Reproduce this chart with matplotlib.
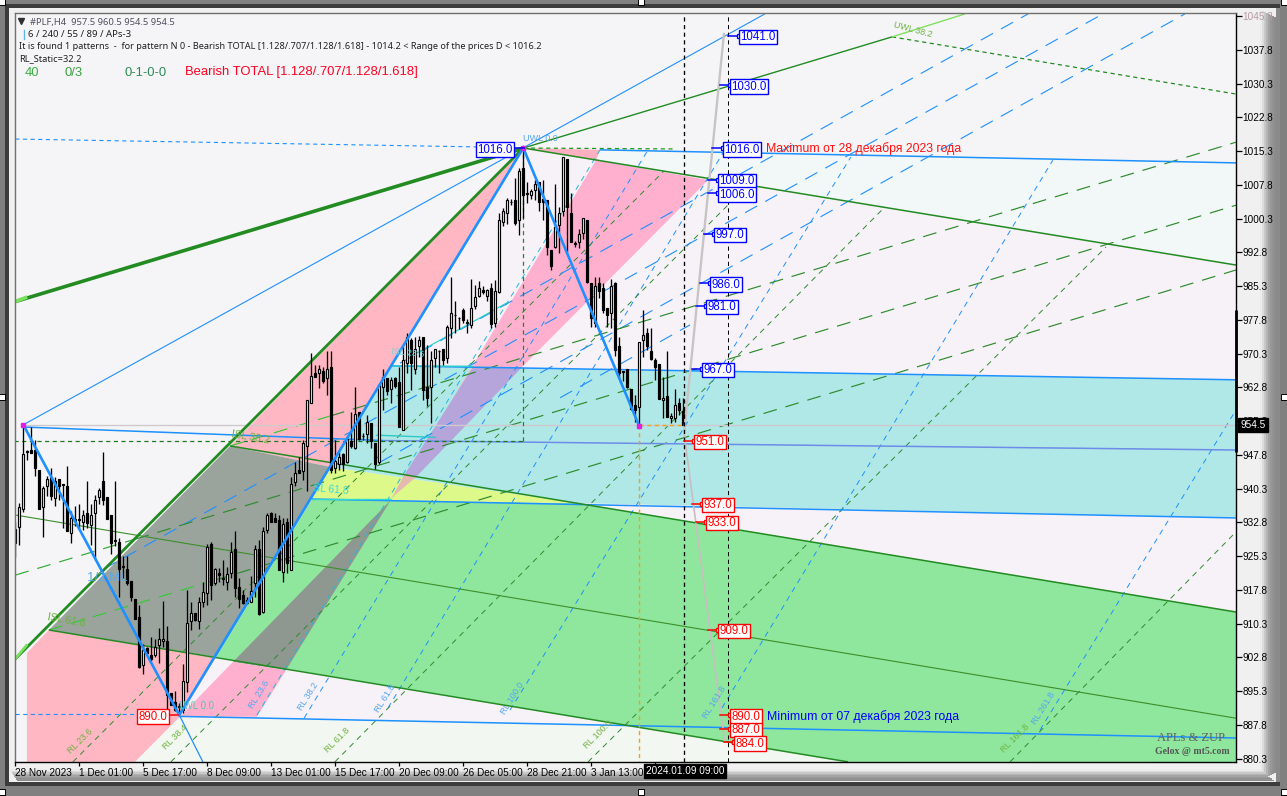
import matplotlib
matplotlib.use("Agg")
import matplotlib.pyplot as plt
from matplotlib.patches import Rectangle, Polygon

plt.rcParams['lines.scale_dashes'] = False
plt.rcParams['font.family'] = ['Liberation Sans', 'DejaVu Sans']

opens = [928.3,931.7,935.9,948.4,948.9,948.9,944.5,936.3,940.8,942.8,938.3,942.4,941.3,940.9,930.4,933.6,933.6,932.9,934.8,932.3,
934.8,938.4,942.0,938.4,934.4,928.7,928.4,922.9,922.4,919.7,915.7,911.7,901.1,905.0,903.3,903.3,905.6,906.4,906.4,894.8,
892.8,891.8,891.1,897.4,910.8,912.6,910.8,915.2,917.2,928.0,919.3,921.6,920.3,919.6,921.6,926.9,918.5,916.6,915.6,915.2,
919.4,926.9,912.8,931.1,934.8,933.7,933.3,921.8,932.9,922.2,941.9,944.5,944.3,949.8,959.3,966.1,965.9,966.5,964.8,967.3,
944.8,945.8,948.0,946.3,950.8,949.3,957.4,951.9,952.5,954.8,950.4,946.3,962.8,964.8,962.4,964.8,964.1,953.3,968.3,973.4,
966.8,971.9,973.9,963.0,962.8,969.3,970.8,971.3,969.3,975.9,978.8,978.2,980.0,977.2,976.7,980.8,983.2,984.5,983.2,984.8,
977.2,983.9,999.5,1001.5,1003.9,1004.5,1000.0,1011.5,1005.8,1005.5,1006.7,1008.5,1004.6,1004.5,993.3,993.9,998.8,1001.9,1013.6,1001.5,
994.7,995.2,997.2,1000.0,985.9,977.2,985.9,985.0,980.4,979.3,985.9,972.0,966.2,966.8,962.5,958.9,958.4,973.4,974.8,970.8,
968.9,968.0,960.0,960.8,955.9,955.9,959.3,957.5]
highs = [933.0,937.2,954.5,949.0,953.9,951.1,944.5,940.9,943.1,944.8,943.0,942.4,941.4,945.3,935.4,936.5,936.9,935.6,942.0,937.0,
938.9,940.5,948.4,938.4,934.4,942.0,929.3,925.3,925.3,919.7,915.7,914.4,905.8,905.1,907.4,906.8,909.3,915.3,909.8,894.8,
895.4,892.7,901.3,917.8,915.2,912.6,916.3,919.6,928.0,928.5,922.6,922.6,924.5,923.0,928.5,930.8,920.4,917.8,916.3,920.8,
927.8,928.9,931.9,934.8,935.2,934.8,934.5,933.7,933.7,943.0,946.3,947.4,951.1,960.0,970.4,967.8,967.8,967.4,970.9,970.9,
951.1,948.5,948.2,951.9,957.4,963.0,957.4,952.6,956.7,954.8,950.4,963.3,966.8,964.8,965.2,965.2,967.4,971.9,975.0,973.7,
974.1,974.2,973.9,972.2,970.8,971.3,971.1,971.3,976.7,987.4,981.9,978.5,980.4,977.9,986.8,985.6,986.5,985.3,984.6,985.9,
986.7,1001.5,1002.6,1004.8,1004.6,1009.3,1011.5,1016.0,1008.4,1007.0,1008.9,1008.5,1008.9,1004.5,993.3,1008.0,1003.0,1014.1,1013.6,1006.1,
995.4,997.9,1000.4,1000.0,985.9,987.4,987.4,985.9,980.4,986.8,986.3,974.1,966.4,966.8,962.5,961.1,972.8,979.9,975.9,975.9,
969.3,968.0,965.2,970.8,957.1,962.4,960.4,960.5]
lows = [925.2,927.7,935.2,946.7,948.2,943.1,935.9,929.6,938.7,937.8,936.5,937.8,931.6,930.8,928.3,932.0,931.5,931.1,931.5,927.7,
924.4,936.9,936.6,933.5,925.7,927.6,916.3,920.4,918.8,915.3,911.3,900.4,899.1,903.6,902.1,903.0,901.5,905.2,890.4,892.2,
890.8,890.0,890.4,895.2,908.8,911.0,909.1,914.1,914.5,915.6,918.9,919.6,918.9,917.8,920.4,916.2,913.7,914.7,914.7,915.2,
916.3,912.2,912.6,930.5,933.0,932.8,922.2,919.6,921.5,922.2,940.8,943.7,942.2,939.9,959.3,965.2,962.6,963.7,961.1,943.9,
943.9,944.5,944.3,946.1,949.3,949.1,951.1,951.1,950.4,949.3,944.6,945.9,957.8,961.1,959.3,962.6,953.9,953.3,965.9,962.2,
965.8,969.6,959.9,958.7,954.8,967.4,965.9,967.8,968.2,973.7,974.8,975.7,977.2,974.8,975.9,980.2,983.0,983.6,981.9,975.9,
976.3,983.7,998.7,999.1,1003.3,998.9,996.7,1000.4,1003.7,1004.6,1004.5,1001.9,1000.0,992.2,988.8,993.7,992.6,1000.8,993.0,995.2,
993.9,993.7,995.7,985.9,976.3,976.3,982.6,979.3,976.3,975.9,969.8,964.6,964.3,962.7,957.8,955.2,954.2,969.6,971.1,968.9,
964.5,960.3,955.9,956.3,954.8,955.2,956.7,954.5]
closes = [931.3,936.3,948.0,948.6,948.2,944.8,935.9,940.4,942.5,938.7,942.0,940.8,941.2,930.8,933.7,933.2,933.3,934.4,932.7,934.4,
937.9,940.0,937.8,933.6,928.3,928.8,922.4,923.1,919.3,916.3,911.3,900.7,904.4,903.7,902.5,905.2,906.8,906.8,894.4,892.3,
891.1,892.0,897.6,910.4,912.7,911.1,915.2,917.4,927.4,918.9,922.4,921.2,920.5,921.3,926.3,918.2,915.7,914.8,914.8,917.6,
927.0,912.4,931.0,934.4,933.0,932.8,922.2,932.5,923.7,941.3,943.9,943.7,950.4,959.9,965.3,965.2,966.8,964.3,966.8,944.5,
946.4,947.3,945.8,951.3,949.8,956.9,951.3,952.1,955.2,950.8,945.9,963.3,965.2,961.9,964.5,963.1,953.9,968.9,973.9,968.3,
971.3,973.4,962.2,960.4,968.9,971.3,970.9,968.8,976.3,979.3,978.9,978.3,977.8,977.3,980.4,982.8,984.8,983.9,984.5,976.8,
984.3,1000.0,1002.0,1004.5,1004.1,999.4,1010.8,1005.5,1006.0,1006.4,1008.0,1003.9,1003.9,993.9,989.8,998.4,1001.5,1013.9,1002.8,995.2,
994.9,996.8,1000.4,986.2,978.2,985.3,984.3,979.9,978.8,985.3,971.1,965.9,966.4,962.8,957.9,957.8,972.8,974.4,971.9,969.2,
967.3,960.3,960.4,956.3,956.5,958.8,957.8,954.5]

time_ticks = [0,16,32,48,64,80,96,112,128,144]
time_labels = ['28 Nov 2023','1 Dec 01:00','5 Dec 17:00','8 Dec 09:00','13 Dec 01:00','15 Dec 17:00','20 Dec 09:00','26 Dec 05:00','28 Dec 21:00','3 Jan 13:00']
price_ticks = [880.3,887.8,895.3,902.8,910.3,917.8,925.3,932.8,940.3,947.8,955.3,962.8,970.3,977.8,985.3,992.8,1000.3,1007.8,1015.3,1022.8,1030.3,1037.8,1045.3]

blue_values = [1041.0,1030.0,1016.0,1009.0,1006.0,997.0,986.0,981.0,967.0]
blue_bars = [180.9,178.7,176.9,175.7,175.7,174.7,173.7,172.7,171.7]
red_values = [951.0,937.0,933.0,909.0,890.0,887.0,884.0]
red_bars = [169.7,171.7,172.7,175.7,178.7,178.7,179.7]

# pivots and anchors (bar number, price)
A=(2,954.5); B=(41,890.0); C=(127,1016.0); D=(156,954.2)
E=(53.7,949.8); F=(8.4,908.9); G=(50.2,902.9); H=(78.9,945.1); I=(74.2,938.0); J=(140.7,937.1)
K=(305.2,912.9); L=(208.2,879.6); M=(94.2,967.6); N=(305.2,964.5); O=(305.2,933.8)
Cend=(305.2,990.0); Ctop=(305.2,1012.7); X=(150.4,888.0); Bot1=(29.9,879.6); Bot0=(2.9,879.6); Left0=(2.9,903.8)
BB=(41.2,889.7); Apex=(94.9,938.9)

fig = plt.figure(figsize=(12.87,7.96), dpi=100, facecolor='#808080')
bg = fig.add_axes([0,0,1,1]); bg.set_xlim(0,1287); bg.set_ylim(796,0); bg.axis('off')
def box(x0,y0,x1,y1,c):
    bg.add_patch(Rectangle((x0,y0),x1-x0,y1-y0,fc=c,ec='none'))
box(5,4,1280,786,'#3c3c3c')
box(9,8,1276,782,'#f0f0f0')
for i,c in enumerate(['#ececec','#dcdcdc','#c8c8c8','#b4b4b4','#a4a4a4','#989898','#929292','#8c8c8c']):
    box(1260+2*i,10+i,1262+2*i,780-i,c)
    box(10+i,769+1.5*i,1260+2*i,770.5+1.5*i,c)
box(1276,8,1280,782,'#8a8a8a')
for x,y in [(2,2),(641,2),(1284,2),(2,397),(1284,397),(2,792),(641,792),(1284,792)]:
    box(x-3,y-3,x+3,y+3,'white')
    bg.add_patch(Rectangle((x-3,y-3),6,6,fc='none',ec='black',lw=0.7))

ax = fig.add_axes([14.7/1287,1-762/796,(1236-14.7)/1287,(762-13.3)/796], facecolor='#F5F5F7')
ax.set_xlim(-0.15,305.2); ax.set_ylim(879.57,1045.94)

def poly(pts,c,z=1):
    ax.add_patch(Polygon(pts,closed=True,fc=c,ec='none',zorder=z))
def seg(a,b,c,lw=0.8,ls='-',z=2):
    ax.plot([a[0],b[0]],[a[1],b[1]],color=c,lw=lw,ls=ls,zorder=z,solid_capstyle='butt')

# pale tints
poly([C,Ctop,Cend],'#F2F7F7')
poly([C,Cend,N,M],'#F7F2F8')
poly([J,O,K],'#F7F2F8')
poly([G,X,BB],'#F7F2F8')
poly([Bot1,BB,X,L],'#F3F7F2')
# coloured zones
poly([C,E,H],'#FFB7C3')
poly([F,G,BB,Bot1,Bot0,Left0],'#FFB7C3')
poly([E,F,G,H],'#9BA39D')
poly([G,I,J,K,(305.2,879.57),L],'#8FE79E')
poly([H,I,J],'#DDF98A')
poly([H,M,N,O,J],'#B0E8E8')
# ribbon (bow-tie)
poly([Apex,(145.2,1013.3),(173.2,1008.9)],'#FFB0CE',1.5)
poly([C,(146.2,1015.6),(145.2,1013.3)],'#FFB0C0',1.5)
poly([(114.4,967.3),(126.7,967.3),(100.2,942.9),(97.2,943.3)],'#B5A5DB',1.6)
poly([(97.2,943.3),(100.2,942.9),Apex,(93.9,937.8)],'#E5B8B0',1.6)
poly([(93.9,937.8),(54.4,901.8),(67.7,900.0)],'#8F9890',1.6)
poly([(54.4,901.8),(67.7,900.0),(60.4,889.6),BB],'#FFB0CE',1.6)

DASH=(0,(10,6.5)); SHORT=(0,(4,3.5)); FINE=(0,(3,2.5)); DOT=(0,(2.5,2))
BLUE='#1E90FF'; DG='#228B22'; MG='#3D8B2A'

# steep RL families
seg((60.4,890.0),(146.2,1015.6),'#25B8D8',0.7,SHORT)
for a,b in [((72.2,889.3),(158.2,1015.6)),((93.2,891.6),(177.4,1015.6)),((123.7,891.1),(208.9,1014.0)),
            ((176.7,891.6),(259.4,1013.3)),((256.2,886.7),(305.2,957.8))]:
    seg(a,b,BLUE,0.7,SHORT)
for a,b in [((14.4,879.6),(162.2,1010.9)),((38.9,879.6),(183.2,1007.8)),((79.9,879.6),(217.4,1002.9)),
            ((143.2,879.6),(272.7,994.0)),((248.7,879.6),(305.2,930.7))]:
    seg(a,b,'#2E8B2E',0.7,SHORT)
# parallel long-dash families
for a,b in [((96.2,968.2),(253.2,1045.8)),((22.2,922.5),(271.9,1045.8)),((91.2,946.2),(292.4,1045.8)),((136.2,960.5),(168.7,976.7))]:
    seg(a,b,BLUE,0.8,DASH)
seg((98.7,969.6),(122.9,981.6),'#20D0C8',0.8,'-')
for a,b,c in [(E,(78.9,956.5),'#33CC33'),((78.9,956.5),(305.2,1017.3),'#2E8B2E'),
              (F,(50,920.0),'#33CC33'),((50,920.0),(305.2,988.9),'#2E8B2E'),
              ((0,921.1),(30,929.1),'#33AA33'),((30,929.1),(305.2,1003.3),'#2E8B2E')]:
    seg(a,b,c,0.85,DASH)

# near-horizontal channel
seg(BB,(305.2,884.9),BLUE,1.1,'-',2.5)
seg(I,(305.2,933.8),BLUE,1.1,'-',2.5)
seg(M,N,BLUE,1.1,'-',2.5)
seg((146.2,1015.6),Ctop,BLUE,1.1,'-',2.5)
seg((2.2,954.0),(92,951.0),BLUE,1.1,'-',2.5)
seg((92,951.0),(305.2,948.9),'#6C8CE8',1.1,'-',2.5)
seg(A,(305.2,954.5),'#CFC8CC',1.0,'-',2.3)
seg(I,(93.9,938.0),'#30D8D0',1.0,'-',2.6)
seg(M,(114.4,967.5),'#30D0C8',1.0,'-',2.6)
seg((90.2,952.2),(105.2,951.7),'#30C8C8',1.0,'-',2.6)
# descending green family
seg(C,Cend,DG,1.1,'-',2.6)
seg(E,K,DG,1.1,'-',2.6)
seg(F,L,DG,1.1,'-',2.6)
seg((-0.3,934.5),(305.2,889.3),'#3A8F2A',0.8,'-',2.4)
# fan from the high
seg((-0.3,981.8),C,DG,2.6,'-',3)
seg((-0.3,981.8),(3,982.9),'#7CE060',2.6,'-',3.1)
seg((-0.3,902.2),C,DG,2.0,'-',3)
seg((-0.3,902.2),(3,905.7),'#7CE060',2.0,'-',3.1)
seg(A,(187.4,1045.8),BLUE,0.8,'-',2.6)
seg(C,(219.2,1040.7),DG,1.0,'-',2.6)
seg((219.2,1040.7),(237.4,1045.8),'#80E060',1.0,'-',2.6)
seg((219.2,1040.7),(305.2,1028.0),DG,0.9,FINE,2.4)
# reference dashes
seg((-0.3,950.9),(127,950.9),'#1F7A1F',0.9,FINE,2.7)
seg((127,950.9),(127,1016),'#1F8A1F',0.9,FINE,2.7)
seg(C,(165,1015.8),'#1F9A1F',0.9,FINE,2.7)
seg((0,1018.0),(118.7,1016.2),BLUE,0.8,FINE,2.7)
seg((0,890.2),(31,890.2),BLUE,0.8,FINE,2.7)
seg((156,954.5),(156,879.57),'#F0A020',1.0,FINE,2.7)
seg((156,954.5),(167,954.5),'#F0A020',1.0,FINE,2.7)
seg((167.2,879.57),(167.2,1045.94),'black',0.95,FINE,5)
seg((178.1,879.57),(178.1,1045.94),'black',0.7,FINE,5)

# candles
for i,(o,h,l,c) in enumerate(zip(opens,highs,lows,closes)):
    ax.plot([i,i],[l,h],color='black',lw=0.95,zorder=4,solid_capstyle='butt')
    top,bot=max(o,c),min(o,c)
    ax.add_patch(Rectangle((i-0.3,bot),0.6,top-bot,fc='white' if c>=o else 'black',ec='black',lw=0.85,zorder=4.1))

# zig-zag
zz=[A,B,C,D]
ax.plot([p[0] for p in zz],[p[1] for p in zz],color=BLUE,lw=1.9,zorder=4.5,solid_joinstyle='miter')
seg(B,(46.9,879.6),BLUE,0.9,'-',4.5)
ax.plot([A[0],C[0],D[0]],[A[1],C[1],D[1]],ls='none',marker='s',ms=2.5,color='#E020E0',zorder=4.6)
# projected path
seg((177.2,1041.6),(167.2,952.7),'#C8C4C6',1.7,'-',4.7)
seg((167.2,952.7),(177.4,883.8),'#C8BEC0',1.2,'-',4.7)

# price boxes
def price_box(bar,val,col,ha='left'):
    s=f'{val:.1f}'
    if ha=='left':
        ax.plot([bar-2.6,bar],[val,val],color=col,lw=1.1,zorder=5.5)
        ax.plot([bar],[val],marker='s',ms=3,mfc='white',mec=col,mew=0.9,zorder=5.6)
        xt=bar+0.4
    else:
        ax.plot([bar,bar+2.4],[val,val],color=col,lw=1.1,zorder=5.5)
        xt=bar-0.4
    ax.annotate(s,xy=(xt,val),xytext=(0,-1.1),textcoords='offset points',color=col,fontsize=8.3,va='center',ha=ha,zorder=6,
            bbox=dict(fc='white',ec=col,lw=1.0,pad=0.9))
for b,v in zip(blue_bars,blue_values): price_box(b,v,'#0000FF')
for b,v in zip(red_bars,red_values): price_box(b,v,'#FF0000')
price_box(124.7,1016.0,'#0000FF','right')
price_box(38.4,890.0,'#FF0000','right')

# level captions
OL='#6DB33F'; LB='#55A5F0'
def cap(x,y,s,c,rot=0,fs=6.5,**k):
    ax.text(x,y,s,color=c,fontsize=fs,rotation=rot,rotation_mode='anchor',ha='center',va='center',zorder=5,**k)
for x,y,s in [(16.2,884.2,'RL 23.6'),(39.9,885.1,'RL 38.4'),(80.4,884.5,'RL 61.8'),(145.7,885.6,'RL 100.0'),(249.9,884.9,'RL 161.8')]:
    cap(x,y,s,OL,45)
for x,y,s in [(60.9,894.5,'RL 23.6'),(73.2,894.2,'RL 38.2'),(92.4,893.8,'RL 61.8'),(124.2,893.8,'RL 100.0'),(174.7,892.9,'RL 161.8'),(257,891.6,'RL 261.8')]:
    cap(x,y,s,LB,58)
cap(131.2,1018.2,'UWL 0.0',LB)
cap(224.4,1042.2,'UWL 38.2',OL,-15)
cap(58.7,951.8,'ISL 38.2',OL,-10,7.5)
cap(12.9,911.1,'ISL 61.8',OL,-10,7.5)
cap(79,940.2,'SL 61.8','#40D8D0',-5,7.5)
cap(98.2,970.5,'ISL 23.6','#70D8E0',-5,6.5)
cap(22.9,920.5,'1/2 ML','#5BA8E8',0,9.5)
cap(45.2,892.0,'LWL 0.0','#60C0B0',0,7)
ax.text(187.7,1016.0,'Maximum от 28 декабря 2023 года',color='#FF1010',fontsize=8.8,va='center',zorder=5)
ax.text(187.9,889.6,'Minimum от 07 декабря 2023 года',color='#0000FF',fontsize=8.8,va='center',zorder=5)
ax.text(302.4,884.9,'APLs & ZUP',family='Liberation Serif',color='#606060',fontsize=9,ha='right',va='center',zorder=5)
ax.text(303.7,881.8,'Gelox @ mt5.com',family='Liberation Serif',color='#555555',fontsize=7,fontweight='bold',ha='right',va='center',zorder=5)

# header
def head(x,y,s,c='#202020',fs=6.9):
    ax.text(x,y,s,transform=ax.transAxes,color=c,fontsize=fs,va='center',ha='left',zorder=7,family=['Noto Sans','DejaVu Sans'])
def fx(px): return (px-14.7)/(1236-14.7)
def fy(py): return 1-(py-13.3)/(762-13.3)
ax.plot([fx(21)],[fy(21.5)],transform=ax.transAxes,marker='v',ms=3.8,color='#303030',zorder=7)
head(fx(30),fy(22),'#PLF,H4  957.5 960.5 954.5 954.5','#505060',6.75)
head(fx(28),fy(34.5),'6 / 240 / 55 / 89 / APs-3','#202020',6.9)
ax.plot([fx(24.5),fx(24.5)],[fy(30),fy(39)],transform=ax.transAxes,color='#60B8E8',lw=1,zorder=7)
head(fx(19),fy(46.5),'It is found 1 patterns  -  for pattern N 0 - Bearish TOTAL [1.128/.707/1.128/1.618] - 1014.2 < Range of the prices D < 1016.2','#202020',6.58)
head(fx(19),fy(58.5),'RL_Static=32.2','#202020',6.7)
def head2(px,s,c,fs=9.4):
    ax.text(fx(px),fy(72.5),s,transform=ax.transAxes,color=c,fontsize=fs,va='center',ha='left',zorder=7)
head2(25,'40','#3CB043')
head2(65,'0/3','#3CA040')
head2(125,'0-1-0-0','#2E8B57')
head2(185,'Bearish TOTAL [1.128/.707/1.128/1.618]','#FF0020')

# axes furniture
for s,c in [('top','#707070'),('left','#707070'),('right','#000000'),('bottom','#000000')]:
    ax.spines[s].set_color(c); ax.spines[s].set_linewidth(1.0); ax.spines[s].set_zorder(8)
ax.yaxis.tick_right()
ax.set_yticks(price_ticks)
ax.set_yticklabels([f'{v:.1f}' for v in price_ticks],fontsize=7.2)
ax.get_yticklabels()[-1].set_color('#B89AA8')
ax.tick_params(axis='y',length=4,width=0.9,pad=0.5)
ax.set_xticks(time_ticks+[160])
ax.set_xticklabels(time_labels+[''],fontsize=7.2,ha='left')
ax.tick_params(axis='x',length=3,width=0.9,pad=1.5)
ax.annotate('2024.01.09 09:00',xy=(157.6,0),xycoords=('data','axes fraction'),xytext=(0,-10),textcoords='offset points',
            color='white',fontsize=7.2,ha='left',va='bottom',annotation_clip=False,
            bbox=dict(fc='black',ec='black',pad=1.5),zorder=9)
ax.annotate('954.5',xy=(1,954.5),xycoords=('axes fraction','data'),xytext=(3,0),textcoords='offset points',
            color='white',fontsize=7.2,ha='left',va='center',annotation_clip=False,
            bbox=dict(fc='black',ec='black',pad=1.5),zorder=9)
ax.plot([305.2,305.2],[948.4,980.0],color='black',lw=2,clip_on=False,zorder=9,solid_capstyle='butt')

fig.savefig('out.png',dpi=100,facecolor=fig.get_facecolor())
